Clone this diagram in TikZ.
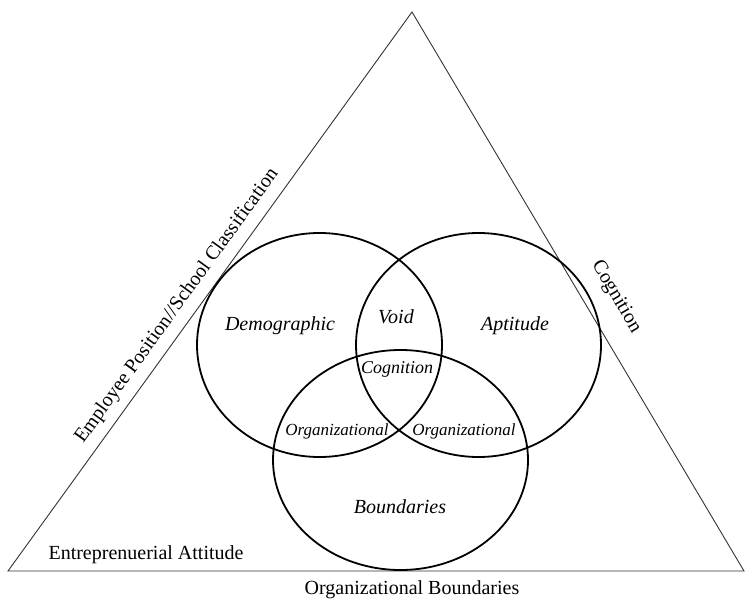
\documentclass[tikz,border=0pt]{standalone}
\usepackage{fontspec}
\setmainfont{Liberation Serif}
\usetikzlibrary{shapes.geometric}
\begin{document}
\begin{tikzpicture}[x=1pt,y=-1pt,
  venn/.style={draw=black,line width=1.8pt,ellipse,inner sep=0pt},
  side/.style={draw=black!80,line width=0.9pt},
  lbl/.style={inner sep=0pt,font=\fontsize{20}{22}\selectfont},
  ilbl/.style={inner sep=0pt,font=\fontsize{20}{22}\selectfont\itshape},
  slbl/.style={inner sep=0pt,font=\fontsize{17}{19}\selectfont\itshape}]
\useasboundingbox (0,0) rectangle (746,601);
% triangle
\coordinate (apex) at (412,12);
\coordinate (bl) at (8,571);
\coordinate (br) at (744,571);
\draw[side] (bl) -- (apex) -- (br) -- cycle;
% circles
\node[venn,minimum width=245pt,minimum height=224pt] (dem) at (319.5,345) {};
\node[venn,minimum width=245pt,minimum height=224pt] (apt) at (478.5,345) {};
\node[venn,minimum width=255pt,minimum height=220pt] (bnd) at (400.5,460) {};
% region labels
\node[ilbl] (tdem) at (280,326) {Demographic};
\node[ilbl] (tvoid) at (396,317) {Void};
\node[ilbl] (tapt) at (515,326) {Aptitude};
\node[ilbl,font=\fontsize{18}{20}\selectfont\itshape] (tcog) at (397,369) {Cognition};
\node[slbl] (torgl) at (337,431) {Organizational};
\node[slbl] (torgr) at (464,431) {Organizational};
\node[ilbl] (tbnd) at (400,507) {Boundaries};
% side labels
\node[lbl,rotate=54.15] (tleft) at (177,306) {Employee Position//School Classification};
\node[lbl,rotate=-59.4] (tright) at (616,297) {Cognition};
\node[lbl] (tent) at (146,555) {Entreprenuerial Attitude};
\node[lbl] (tbase) at (412,590) {Organizational Boundaries};
\end{tikzpicture}
\end{document}
